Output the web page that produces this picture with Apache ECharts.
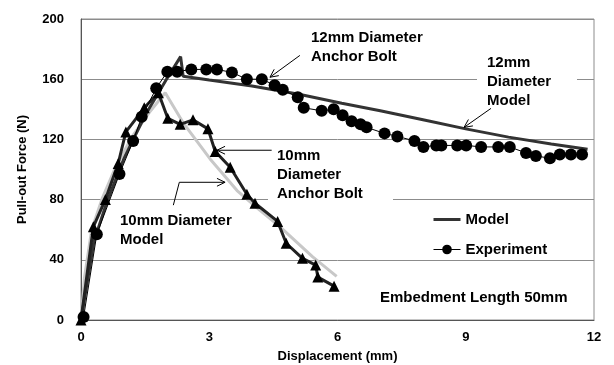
<!DOCTYPE html>
<html>
<head>
<meta charset="utf-8">
<script src="https://cdn.jsdelivr.net/npm/echarts@6/dist/echarts.min.js"></script>
<style>
  html, body { margin: 0; padding: 0; background: #fff; }
  #main { width: 614px; height: 365px; }
</style>
</head>
<body>
<div id="main"></div>
<script>
// values: [displacement mm, force N]
var model12 = [[0, 0], [0.3, 52], [0.6, 78], [1.0, 107], [1.5, 136], [2.0, 160], [2.33, 175],
    [2.39, 162], [3, 159.5], [4, 155.5], [5.1, 150], [6.1, 144], [7, 139], [8, 133],
    [9, 127], [10, 121.5], [11, 117], [11.85, 113.5]];
var model10 = [[0, 0], [0.08, 28], [0.25, 60], [0.5, 81], [0.8, 101], [1.2, 122], [1.6, 138],
    [1.97, 151], [2.39, 131], [3.02, 107], [3.65, 86], [4.18, 73], [4.65, 62], [5.42, 42], [5.98, 29]];
var exp12 = [[0.06, 2], [0.37, 57], [0.9, 97], [1.22, 119], [1.42, 135], [1.76, 154],
    [2.02, 165], [2.25, 165], [2.58, 166.5], [2.93, 166.5], [3.18, 166.5], [3.53, 164.5],
    [3.88, 160], [4.23, 160], [4.53, 156], [4.72, 153], [5.07, 148], [5.21, 141],
    [5.63, 139], [5.91, 140], [6.12, 136], [6.33, 132], [6.54, 130], [6.68, 128],
    [7.1, 124], [7.4, 122], [7.8, 119], [8.01, 115], [8.31, 116], [8.43, 116],
    [8.8, 116], [9.01, 116], [9.36, 115], [9.76, 115], [10.03, 115], [10.41, 111],
    [10.64, 109], [10.97, 107.5], [11.2, 110], [11.46, 110], [11.72, 110]];
var exp10 = [[0, 0], [0.29, 62], [0.57, 80], [0.87, 104], [1.05, 125], [1.48, 141],
    [1.81, 151], [2.03, 134], [2.32, 130], [2.62, 133], [2.97, 127], [3.14, 112],
    [3.49, 101.5], [3.88, 83.5], [4.07, 77.6], [4.6, 65.5], [4.8, 51], [5.18, 41],
    [5.49, 36.5], [5.54, 28.5], [5.92, 22.5]];

// annotation arrows in data coordinates (last point is the arrow tip)
var arrows = [
    [[5.12, 175.8], [4.42, 161.3]],
    [[9.59, 140.6], [8.96, 128]],
    [[4.46, 112.8], [3.18, 112.8]],
    [[2.16, 76.3], [2.30, 91.5], [3.37, 91.5]]
];

var font = '"Liberation Sans", Arial, sans-serif';
var chart = echarts.init(document.getElementById('main'));

var option = {
    animation: false,
    backgroundColor: '#fff',
    grid: {
        left: 81, right: 20, top: 19, bottom: 45,
        outerBoundsMode: 'none',
        show: true, borderColor: '#8c8c8c', borderWidth: 1
    },
    legend: {
        data: [
            { name: 'Model', icon: 'path://M0,0L27,0L27,3L0,3Z', itemStyle: { color: '#333' } },
            { name: 'Experiment', lineStyle: { width: 1, color: '#000' } }
        ],
        orient: 'vertical',
        left: 428, top: 207,
        itemWidth: 27, itemHeight: 12, itemGap: 15,
        textStyle: { fontFamily: font, fontWeight: 'bold', fontSize: 15, color: '#000' }
    },
    xAxis: {
        type: 'value', min: 0, max: 12, interval: 3,
        name: 'Displacement (mm)', nameLocation: 'middle', nameGap: 30,
        nameTextStyle: { fontFamily: font, fontWeight: 'bold', fontSize: 13, color: '#000' },
        axisLine: { lineStyle: { color: '#555' } },
        axisTick: { show: false },
        axisLabel: { fontFamily: font, fontWeight: 'bold', fontSize: 13, color: '#000', margin: 11 },
        splitLine: { show: false }
    },
    yAxis: {
        type: 'value', min: 0, max: 200, interval: 40,
        name: 'Pull-out Force (N)', nameLocation: 'middle', nameGap: 52,
        nameTextStyle: { fontFamily: font, fontWeight: 'bold', fontSize: 13, color: '#000' },
        axisLine: { show: true, lineStyle: { color: '#555' } },
        axisTick: { show: false },
        axisLabel: { fontFamily: font, fontWeight: 'bold', fontSize: 13, color: '#000', margin: 17 },
        splitLine: { lineStyle: { color: '#8c8c8c', width: 1 } }
    },
    series: [{
        name: '10mm Model', type: 'line', data: model10, symbol: 'none',
        lineStyle: { color: '#c8c8c8', width: 3 }, z: 1
    }, {
        name: 'Model', type: 'line', data: model12, symbol: 'none',
        itemStyle: { color: '#333' },
        lineStyle: { color: '#333', width: 3 }, z: 2
    }, {
        name: '10mm Experiment', type: 'line', data: exp10,
        symbol: 'triangle', symbolSize: 11,
        itemStyle: { color: '#000' },
        lineStyle: { color: '#222', width: 3 }, z: 3
    }, {
        name: 'Experiment', type: 'line', data: exp12,
        symbol: 'circle', symbolSize: 12,
        itemStyle: { color: '#000' },
        lineStyle: { color: '#000', width: 1 }, z: 4
    }]
};
chart.setOption(option);

function textEl(x, y, str) {
    return {
        type: 'text', x: x, y: y, z: 100,
        style: { text: str, font: 'bold 15px ' + font, fill: '#000', lineHeight: 19 }
    };
}

var graphics = [
    { type: 'rect', shape: { x: 477, y: 54, width: 100, height: 56 }, style: { fill: '#fff' }, z: 90 },
    { type: 'rect', shape: { x: 268, y: 146, width: 125, height: 56 }, style: { fill: '#fff' }, z: 90 },
    textEl(311, 28, '12mm Diameter\nAnchor Bolt'),
    textEl(487, 53, '12mm\nDiameter\nModel'),
    textEl(277, 146, '10mm\nDiameter\nAnchor Bolt'),
    textEl(120, 211, '10mm Diameter\nModel'),
    textEl(380, 288, 'Embedment Length 50mm')
];

arrows.forEach(function (a) {
    var pts = a.map(function (p) { return chart.convertToPixel({ gridIndex: 0 }, p); });
    graphics.push({
        type: 'polyline', z: 95, shape: { points: pts },
        style: { stroke: '#000', lineWidth: 1, fill: null }
    });
    var tip = pts[pts.length - 1], prev = pts[pts.length - 2];
    var ang = Math.atan2(tip[1] - prev[1], tip[0] - prev[0]);
    var len = 9, spread = 0.45;
    graphics.push({
        type: 'polyline', z: 95,
        shape: { points: [
            [tip[0] - len * Math.cos(ang - spread), tip[1] - len * Math.sin(ang - spread)],
            tip,
            [tip[0] - len * Math.cos(ang + spread), tip[1] - len * Math.sin(ang + spread)]
        ] },
        style: { stroke: '#000', lineWidth: 1, fill: null }
    });
});

chart.setOption({ graphic: graphics });
</script>
</body>
</html>
